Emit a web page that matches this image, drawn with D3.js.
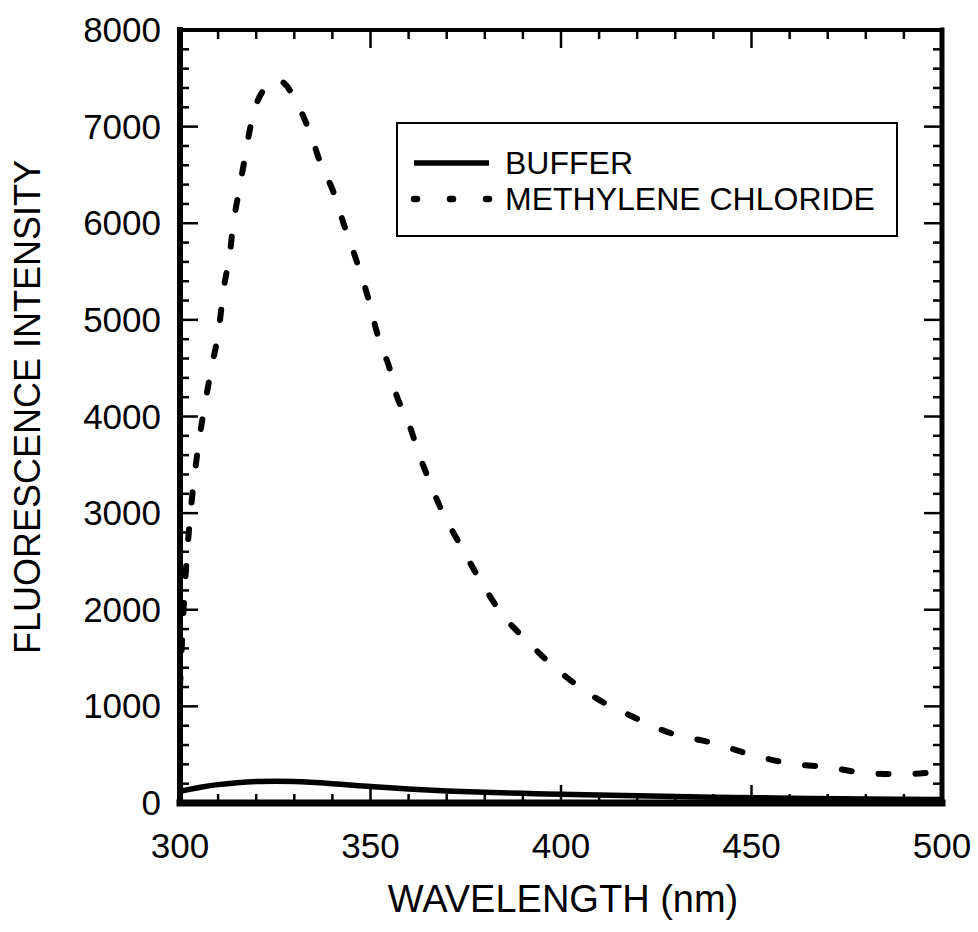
<!DOCTYPE html>
<html>
<head>
<meta charset="utf-8">
<script src="https://cdn.jsdelivr.net/npm/d3@7"></script>
<style>
  body { margin: 0; background: #fff; }
  svg { display: block; font-family: "Liberation Sans", Arial, sans-serif; }
</style>
</head>
<body>
<svg id="chart"></svg>
<script>
// Methylene chloride spectrum (dashed)
const mcWavelength = [300, 301, 302, 303, 304, 305, 306, 308, 310, 311.5, 313, 314, 315.5, 317, 318.5, 320, 322, 325, 327, 330,
  334, 337, 340, 343, 346, 349, 352, 355, 357, 360, 363, 366, 369, 374, 379, 385, 390, 399, 409, 419,
  429, 440, 450, 460, 470, 480, 490, 500];
const mcIntensity = [1200, 2050, 2650, 3100, 3450, 3750, 4000, 4450, 4850, 5330, 5660, 6000, 6340, 6670, 7000, 7230, 7380, 7480, 7460, 7300,
  6950, 6610, 6350, 5990, 5650, 5280, 4830, 4500, 4200, 3930, 3580, 3280, 3000, 2640, 2290, 1930, 1720, 1380, 1090, 890,
  720, 620, 500, 410, 370, 310, 300, 320];

// Buffer spectrum (solid)
const bufWavelength = [300, 305, 310, 315, 320, 325, 330, 340, 350, 360, 370, 380, 390, 400, 420, 440, 460, 480, 500];
const bufIntensity = [120, 160, 190, 210, 222, 225, 222, 200, 170, 145, 125, 110, 100, 90, 75, 60, 50, 42, 35];

const xTicks = [300, 350, 400, 450, 500];
const yTicks = [0, 1000, 2000, 3000, 4000, 5000, 6000, 7000, 8000];
const legendLabels = ["BUFFER", "METHYLENE CHLORIDE"];

const W = 978, H = 932;
const margin = { top: 30, right: 36, bottom: 129, left: 180 };
const width = W - margin.left - margin.right;
const height = H - margin.top - margin.bottom;

const svg = d3.select("#chart").attr("width", W).attr("height", H);
const g = svg.append("g").attr("transform", `translate(${margin.left},${margin.top})`);

const x = d3.scaleLinear().domain([300, 500]).range([0, width]);
const y = d3.scaleLinear().domain([0, 8000]).range([height, 0]);

// clip so curves stay inside the frame
g.append("clipPath").attr("id", "clip")
  .append("rect").attr("width", width).attr("height", height);

const line = d3.line()
  .x(d => x(d[0]))
  .y(d => y(d[1]))
  .curve(d3.curveCatmullRom.alpha(0.5));

const plot = g.append("g").attr("clip-path", "url(#clip)");

plot.append("path")
  .datum(d3.zip(bufWavelength, bufIntensity))
  .attr("fill", "none")
  .attr("stroke", "#000")
  .attr("stroke-width", 5.5)
  .attr("d", line);

plot.append("path")
  .datum(d3.zip(mcWavelength, mcIntensity))
  .attr("fill", "none")
  .attr("stroke", "#000")
  .attr("stroke-width", 6)
  .attr("stroke-linecap", "round")
  .attr("stroke-dasharray", "10,27")
  .attr("d", line);

// inward ticks on all four sides
const majorLen = 18, minorLen = 9;
const xMinor = d3.range(300, 501, 10);
const yMinor = d3.range(0, 8001, 200);
const ticks = g.append("g").attr("stroke", "#000").attr("stroke-width", 2.5);

xMinor.forEach(v => {
  const len = v % 50 === 0 ? majorLen : minorLen;
  ticks.append("line").attr("x1", x(v)).attr("x2", x(v)).attr("y1", height).attr("y2", height - len);
  ticks.append("line").attr("x1", x(v)).attr("x2", x(v)).attr("y1", 0).attr("y2", len);
});
yMinor.forEach(v => {
  const len = v % 1000 === 0 ? majorLen : minorLen;
  ticks.append("line").attr("x1", 0).attr("x2", len).attr("y1", y(v)).attr("y2", y(v));
  ticks.append("line").attr("x1", width).attr("x2", width - len).attr("y1", y(v)).attr("y2", y(v));
});

// frame
const frame = g.append("g").attr("stroke", "#000").attr("stroke-linecap", "square");
frame.append("line").attr("x1", 0).attr("x2", width).attr("y1", 0).attr("y2", 0).attr("stroke-width", 4);
frame.append("line").attr("x1", width).attr("x2", width).attr("y1", 0).attr("y2", height).attr("stroke-width", 5);
frame.append("line").attr("x1", 0).attr("x2", 0).attr("y1", 0).attr("y2", height).attr("stroke-width", 6);
frame.append("line").attr("x1", 0).attr("x2", width).attr("y1", height).attr("y2", height).attr("stroke-width", 7);

// tick labels
g.append("g").selectAll("text").data(xTicks).join("text")
  .attr("x", d => x(d))
  .attr("y", height + 55)
  .attr("text-anchor", "middle")
  .attr("font-size", 35)
  .text(d => d);

g.append("g").selectAll("text").data(yTicks).join("text")
  .attr("x", -19)
  .attr("y", d => y(d) + 12)
  .attr("text-anchor", "end")
  .attr("font-size", 35)
  .text(d => d);

// axis titles
svg.append("text")
  .attr("x", margin.left + width / 2 + 2)
  .attr("y", 912)
  .attr("text-anchor", "middle")
  .attr("font-size", 38)
  .text("WAVELENGTH (nm)");

svg.append("text")
  .attr("transform", "translate(40,407) rotate(-90)")
  .attr("text-anchor", "middle")
  .attr("font-size", 36)
  .text("FLUORESCENCE INTENSITY");

// legend
const legend = svg.append("g");
legend.append("rect")
  .attr("x", 397).attr("y", 123).attr("width", 500).attr("height", 113)
  .attr("fill", "#fff").attr("stroke", "#000").attr("stroke-width", 2);
legend.append("line")
  .attr("x1", 414).attr("x2", 489).attr("y1", 163).attr("y2", 163)
  .attr("stroke", "#000").attr("stroke-width", 5.5);
legend.append("line")
  .attr("x1", 414).attr("x2", 490).attr("y1", 199).attr("y2", 199)
  .attr("stroke", "#000").attr("stroke-width", 6.5)
  .attr("stroke-linecap", "round")
  .attr("stroke-dasharray", "3,33");
legend.selectAll("text.lab").data(legendLabels).join("text")
  .attr("class", "lab")
  .attr("x", 505)
  .attr("y", (d, i) => 174 + i * 36)
  .attr("font-size", 32)
  .text(d => d);
</script>
</body>
</html>
